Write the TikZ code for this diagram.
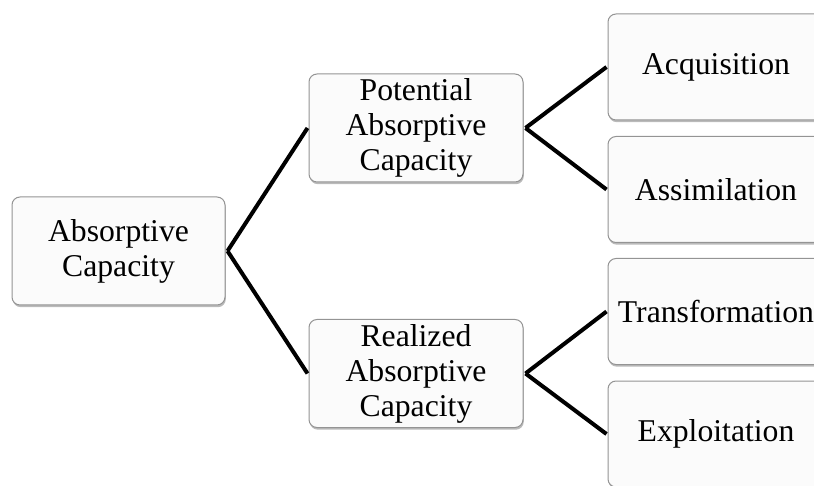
\documentclass[tikz,border=0pt]{standalone}
\usepackage{fontspec}
\setmainfont{Liberation Serif}
\usetikzlibrary{shadows}
\begin{document}
\begin{tikzpicture}[x=1pt,y=-1pt,
  box/.style={rectangle, rounded corners=8pt, draw=black!42, line width=1pt,
    fill=black!1.5, align=center, inner sep=0pt,
    font=\fontsize{31.7}{35}\selectfont,
    drop shadow={shadow xshift=0.8pt, shadow yshift=-2.2pt, opacity=0.45, fill=black!60}},
  midbox/.style={box, minimum width=214pt, minimum height=108pt},
  leafbox/.style={box, minimum width=216pt, minimum height=106pt},
  link/.style={line width=4pt, draw=black}]
\useasboundingbox (0,0) rectangle (814,486);
\clip (0,0) rectangle (814,486);

% tree of boxes
\node[midbox, minimum width=213pt] (root) at (118.5,251) {Absorptive\\Capacity};
\node[midbox] (pot) at (416,128) {Potential\\Absorptive\\Capacity};
\node[midbox] (real) at (416,373.5) {Realized\\Absorptive\\Capacity};
\node[leafbox] (acq) at (716,67) {Acquisition};
\node[leafbox] (assim) at (716,189.5) {Assimilation};
\node[leafbox] (trans) at (716,311.5) {Transformation};
\node[leafbox] (expl) at (716,434) {Exploitation};

% branches
\draw[link] ([xshift=2pt]root.east) -- ([xshift=-1pt]pot.west);
\draw[link] ([xshift=2pt]root.east) -- ([xshift=-1pt]real.west);
\draw[link] ([xshift=2pt]pot.east) -- ([xshift=-1pt]acq.west);
\draw[link] ([xshift=2pt]pot.east) -- ([xshift=-1pt]assim.west);
\draw[link] ([xshift=2pt]real.east) -- ([xshift=-1pt]trans.west);
\draw[link] ([xshift=2pt]real.east) -- ([xshift=-1pt]expl.west);
\end{tikzpicture}
\end{document}
